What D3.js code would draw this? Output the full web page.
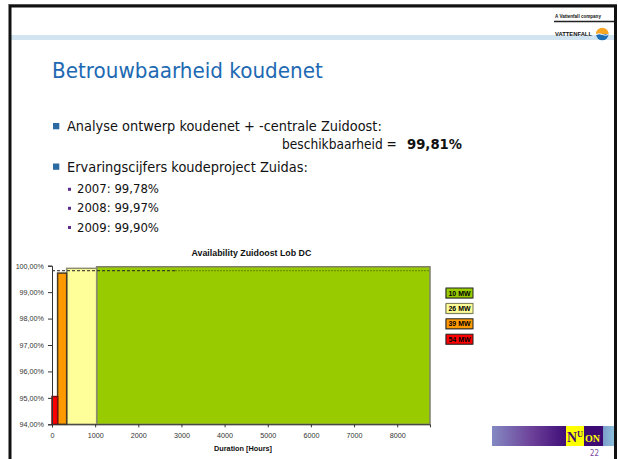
<!DOCTYPE html>
<html>
<head>
<meta charset="utf-8">
<script src="https://cdn.jsdelivr.net/npm/d3@7"></script>
<style>
  html, body { margin: 0; padding: 0; background: #fff; }
  svg { display: block; }
</style>
</head>
<body>
<div class="slide"></div>
<script>
// chart data
const categories = ['10 MW', '26 MW', '39 MW', '54 MW']
const startHours = [1035, 340, 130, 0]
const endHours = [8760, 1035, 340, 130]
const availability = [99.96, 99.90, 99.72, 95.05]
const designAvailability = 99.81
const dashSplitHours = 2850
const yTicks = [94, 95, 96, 97, 98, 99, 100]
const xTicks = [0, 1000, 2000, 3000, 4000, 5000, 6000, 7000, 8000]

// slide texts
const slideTitle = 'Betrouwbaarheid koudenet'
const bulletLines = ['Analyse ontwerp koudenet + -centrale Zuidoost:', 'Ervaringscijfers koudeproject Zuidas:']
const subBullets = ['2007: 99,78%', '2008: 99,97%', '2009: 99,90%']

const fills = { '10 MW': '#99cc00', '26 MW': '#ffff99', '39 MW': '#ff9900', '54 MW': '#ff0000' }
const strokes = { '10 MW': '#7f7f6a', '26 MW': '#8c8c70', '39 MW': '#4a3a20', '54 MW': '#7a1010' }

document.addEventListener('DOMContentLoaded', start)

function start () {
  const svg = d3.select('.slide')
    .append('svg')
    .attr('width', 618)
    .attr('height', 459)
  drawFrame(svg)
  drawLogos(svg)
  drawTexts(svg)
  drawChart(svg)
}

// draws a text and squeezes it horizontally to the width seen on the slide
function fitText (g, str, x, y, size, width, opts = {}) {
  const t = g.append('text')
    .attr('font-family', opts.family || 'DejaVu Sans, Verdana, sans-serif')
    .attr('font-size', size)
    .attr('font-weight', opts.weight || 'normal')
    .attr('fill', opts.fill || '#111')
    .text(str)
  if (width) {
    const natural = t.node().getComputedTextLength()
    t.attr('transform', `translate(${x},${y}) scale(${width / natural},1)`)
  } else {
    t.attr('x', x).attr('y', y)
  }
  return t
}

function drawFrame (svg) {
  // light blue band under header
  svg.append('rect').attr('x', 11).attr('y', 35).attr('width', 603).attr('height', 5).attr('fill', '#d2e4ef')
  svg.append('line').attr('x1', 8).attr('x2', 617).attr('y1', 4.5).attr('y2', 4.5).attr('stroke', '#999').attr('stroke-width', 1)
  svg.append('path')
    .attr('d', 'M10,459 L10,6 L615.5,6 L615.5,459')
    .attr('fill', 'none')
    .attr('stroke', '#111')
    .attr('stroke-width', 3)
}

function drawLogos (svg) {
  const g = svg.append('g')
  // Vattenfall
  fitText(g, 'A Vattenfall company', 555, 18, 5.5, 46, { weight: 'bold', family: 'Liberation Sans, Arial' })
  g.append('line').attr('x1', 554).attr('x2', 614).attr('y1', 21.5).attr('y2', 21.5).attr('stroke', '#222').attr('stroke-width', 1.5)
  fitText(g, 'VATTENFALL', 555, 36, 6, 37, { weight: 'bold', family: 'Liberation Sans, Arial' })
  const cx = 602.3, cy = 34, r = 6.3
  g.append('path').attr('d', `M${cx - r},${cy} A${r},${r} 0 0 1 ${cx + r},${cy} Z`).attr('fill', '#f6a623')
  g.append('path').attr('d', `M${cx - r},${cy} A${r},${r} 0 0 0 ${cx + r},${cy} Z`).attr('fill', '#1b6db4')
  g.append('path').attr('d', `M${cx - r},${cy + 0.5} Q${cx - 3},${cy - 1} ${cx},${cy + 0.5} T${cx + r},${cy + 0.5}`)
    .attr('fill', 'none').attr('stroke', '#fff').attr('stroke-width', 1)

  // Nuon bar
  const defs = svg.append('defs')
  const grad = defs.append('linearGradient').attr('id', 'nuonGrad')
  grad.append('stop').attr('offset', '0%').attr('stop-color', '#8489c2')
  grad.append('stop').attr('offset', '55%').attr('stop-color', '#6c3f98')
  grad.append('stop').attr('offset', '100%').attr('stop-color', '#3f0e78')
  const grad2 = defs.append('linearGradient').attr('id', 'nuonGrad2')
  grad2.append('stop').attr('offset', '0%').attr('stop-color', '#7c9cc9')
  grad2.append('stop').attr('offset', '100%').attr('stop-color', '#8cc0dc')
  g.append('rect').attr('x', 492).attr('y', 426).attr('width', 74).attr('height', 20).attr('fill', 'url(#nuonGrad)')
  g.append('rect').attr('x', 566).attr('y', 426).attr('width', 18).attr('height', 20).attr('fill', '#ffff00')
  g.append('rect').attr('x', 584).attr('y', 426).attr('width', 19).attr('height', 20).attr('fill', '#3d0a73')
  g.append('rect').attr('x', 603).attr('y', 426).attr('width', 11).attr('height', 20).attr('fill', 'url(#nuonGrad2)')
  fitText(g, 'N', 567, 442, 15, 10, { weight: 'bold', family: 'Liberation Serif, serif', fill: '#3d0a73' })
  fitText(g, 'U', 577, 437, 8, 6, { weight: 'bold', family: 'Liberation Serif, serif', fill: '#3d0a73' })
  fitText(g, 'ON', 585, 442, 11, 15, { weight: 'bold', family: 'Liberation Serif, serif', fill: '#ffff00' })
  fitText(g, '22', 590, 456, 9, 9, { family: 'DejaVu Sans, sans-serif', fill: '#7a4aa0' })
}

function drawTexts (svg) {
  const g = svg.append('g')
  fitText(g, slideTitle, 52, 78, 22, 271, { fill: '#2069b2' })

  const bulletY = [131, 171.5]
  const bulletW = [315, 241]
  bulletLines.forEach((line, i) => {
    g.append('rect').attr('x', 53).attr('y', bulletY[i] - 8).attr('width', 6.3).attr('height', 6.3).attr('fill', '#2c6aa2')
    fitText(g, line, 67, bulletY[i], 14.5, bulletW[i])
  })
  fitText(g, 'beschikbaarheid =', 282, 149, 14.5, 115)
  fitText(g, '99,81%', 407, 149, 14.5, 55, { weight: 'bold' })

  const subY = [193.3, 212.3, 231.5]
  subBullets.forEach((line, i) => {
    g.append('rect').attr('x', 68).attr('y', subY[i] - 5.5).attr('width', 3).attr('height', 3).attr('fill', '#5b2b8a')
    fitText(g, line, 77, subY[i], 12.5, 82)
  })
}

function drawChart (svg) {
  const x = d3.scaleLinear().domain([0, 8760]).range([52, 430])
  const y = d3.scaleLinear().domain([94, 100]).range([424.3, 265.7])
  const g = svg.append('g').attr('class', 'chart')

  fitText(g, 'Availability  Zuidoost Lob DC', 191.5, 255.5, 8.3, 120, { weight: 'bold', family: 'Liberation Sans, Arial' })

  const bars = categories.map((c, i) => ({ c, x0: startHours[i], x1: endHours[i], v: availability[i] }))
  g.selectAll('.bar')
    .data(bars)
    .enter().append('rect')
    .attr('class', 'bar')
    .attr('x', d => x(d.x0))
    .attr('width', d => x(d.x1) - x(d.x0))
    .attr('y', d => y(d.v))
    .attr('height', d => y(94) - y(d.v))
    .attr('fill', d => fills[d.c])
    .attr('stroke', d => strokes[d.c])
    .attr('stroke-width', 1.5)

  // design availability line
  g.append('line')
    .attr('x1', x(0)).attr('x2', x(dashSplitHours))
    .attr('y1', y(designAvailability)).attr('y2', y(designAvailability))
    .attr('stroke', '#222').attr('stroke-width', 1).attr('stroke-dasharray', '3,2')
  g.append('line')
    .attr('x1', x(dashSplitHours)).attr('x2', x(8760))
    .attr('y1', y(designAvailability)).attr('y2', y(designAvailability))
    .attr('stroke', '#5f8000').attr('stroke-width', 1).attr('stroke-dasharray', '2,1')

  const yAxis = g.append('g')
    .attr('transform', `translate(${x(0)},0)`)
    .call(d3.axisLeft(y).tickValues(yTicks).tickSize(4).tickPadding(4)
      .tickFormat(d => d.toFixed(2).replace('.', ',') + '%'))
  const xAxis = g.append('g')
    .attr('transform', `translate(0,${y(94)})`)
    .call(d3.axisBottom(x).tickValues(xTicks).tickSize(3).tickPadding(6).tickFormat(d => d))
  ;[yAxis, xAxis].forEach(a => {
    a.select('.domain').attr('stroke', '#333')
    a.selectAll('line').attr('stroke', '#333')
    a.selectAll('text')
      .attr('font-family', 'Liberation Sans, Arial, sans-serif')
      .attr('font-size', 7.2)
      .attr('fill', '#333')
  })

  fitText(g, 'Duration [Hours]', 214, 451, 7.3, 58, { weight: 'bold', family: 'Liberation Sans, Arial' })

  // legend
  const legend = g.selectAll('.legend')
    .data(categories)
    .enter().append('g')
    .attr('class', 'legend')
    .attr('transform', (d, i) => `translate(446,${288 + i * 15.4})`)
  legend.append('rect')
    .attr('x', -0.8).attr('y', 0.8).attr('width', 27).attr('height', 10)
    .attr('fill', '#bbb')
  legend.append('rect')
    .attr('width', 27).attr('height', 10)
    .attr('fill', d => fills[d])
    .attr('stroke', d => d === '26 MW' ? '#777755' : '#222')
    .attr('stroke-width', 1)
  legend.append('text')
    .attr('x', 2.5).attr('y', 7.6)
    .attr('font-family', 'Liberation Sans, Arial, sans-serif')
    .attr('font-size', 7)
    .attr('font-weight', 'bold')
    .attr('textLength', 22).attr('lengthAdjust', 'spacingAndGlyphs')
    .text(d => d)
}
</script>
</body>
</html>
